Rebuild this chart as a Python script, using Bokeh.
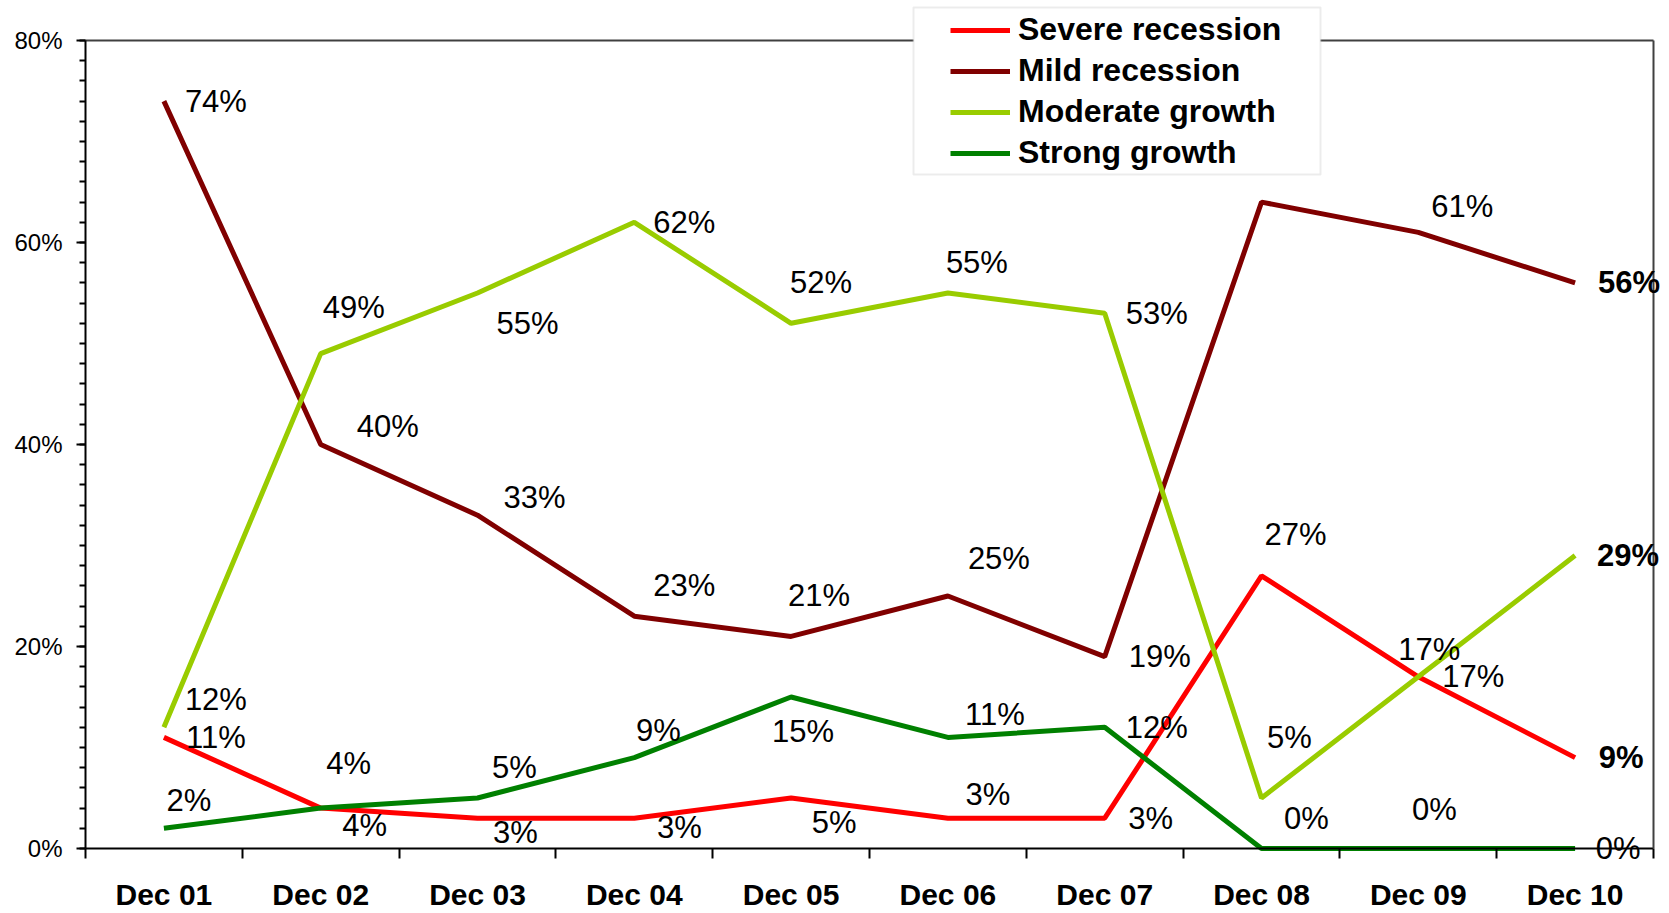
from bokeh.plotting import figure
from bokeh.models import (ColumnDataSource, LabelSet, Legend, LegendItem, FixedTicker,
                          PrintfTickFormatter, Range1d, BoxAnnotation, LinearAxis)
from bokeh.core.properties import value
from bokeh.embed import file_html
from bokeh.resources import INLINE

# ---------------- data ----------------
categories = ["Dec 01", "Dec 02", "Dec 03", "Dec 04", "Dec 05",
              "Dec 06", "Dec 07", "Dec 08", "Dec 09", "Dec 10"]
severe_recession = [11, 4, 3, 3, 5, 3, 3, 27, 17, 9]
mild_recession = [74, 40, 33, 23, 21, 25, 19, 64, 61, 56]
moderate_growth = [12, 49, 55, 62, 52, 55, 53, 5, 17, 29]
strong_growth = [2, 4, 5, 9, 15, 11, 12, 0, 0, 0]
y_ticks = [0, 20, 40, 60, 80]
y_minor_ticks = list(range(0, 81, 2))

series_names = ["Severe recession", "Mild recession", "Moderate growth", "Strong growth"]
series_values = [severe_recession, mild_recession, moderate_growth, strong_growth]
series_colors = ["#FF0000", "#800000", "#99CC00", "#008000"]
last_bold = [True, True, True, False]

# label offsets in screen pixels (dx right, dy down); None = no label
label_offsets = [
    [(52, 0), (44, 17), (38, 14), (45, 9), (43, 24), (40, -24), (46, 0), (34, -41), (55, 0), (46, 0)],
    [(52, 0), (67, -18), (57, -18), (50, -31), (28, -41), (51, -38), (55, 0), None, (44, -26), (54, 0)],
    [(52, -28), (33, -46), (50, 30), (50, 0), (30, -41), (29, -31), (52, 0), (28, -61), (11, -27), (53, 0)],
    [(25, -28), (28, -45), (37, -31), (24, -27), (12, 34), (47, -23), (52, 0), (45, -30), (16, -39), (43, 0)],
]

FONT = "Liberation Sans"
n = len(categories)
xs = [i + 0.5 for i in range(n)]
centers = xs
boundaries = list(range(0, n + 1))

# canvas geometry: plot area from x=85..1653, y=40..848
W, H = 1661, 910
L, R, T, B = 85, 1653, 40, 848
px_x = (R - L) / n
px_y = (B - T) / 80.0
x_range = Range1d(-L / px_x, n + (W - R) / px_x)
y_range = Range1d(-(H - B) / px_y, 80 + T / px_y)

p = figure(width=W, height=H, x_range=x_range, y_range=y_range,
           output_backend="svg", toolbar_location=None, min_border=0,
           x_axis_location=None, y_axis_location=None)
p.background_fill_color = "white"
p.border_fill_color = "white"
p.outline_line_color = None
p.grid.visible = False

# y axis at x=0
yax = LinearAxis(fixed_location=0, bounds=(0, 80),
                 ticker=FixedTicker(ticks=y_ticks, minor_ticks=y_minor_ticks),
                 formatter=PrintfTickFormatter(format="%d%%"))
yax.axis_line_color = "black"
yax.axis_line_width = 2
yax.major_tick_line_width = 2
yax.minor_tick_line_width = 2
yax.major_tick_out = 9
yax.major_tick_in = 0
yax.minor_tick_out = 6
yax.minor_tick_in = 0
yax.major_label_standoff = 14
yax.major_label_text_font = FONT
yax.major_label_text_font_size = "24px"
yax.major_label_text_color = "black"
p.add_layout(yax, "left")

# x axis at y=0: labels at category centres, tick marks at category boundaries
xax = LinearAxis(fixed_location=0, bounds=(0, n),
                 ticker=FixedTicker(ticks=centers, minor_ticks=boundaries))
xax.major_label_overrides = {c: lab for c, lab in zip(centers, categories)}
xax.axis_line_color = "black"
xax.axis_line_width = 2
xax.major_tick_line_color = None
xax.major_tick_out = 0
xax.major_tick_in = 0
xax.minor_tick_line_color = "black"
xax.minor_tick_line_width = 2
xax.minor_tick_out = 10
xax.minor_tick_in = 0
xax.major_label_standoff = 19
xax.major_label_text_font = FONT
xax.major_label_text_font_size = "30px"
xax.major_label_text_font_style = "bold"
xax.major_label_text_color = "black"
p.add_layout(xax, "below")

# plot-area border on top and right
top_ax = LinearAxis(fixed_location=80, bounds=(0, n), ticker=FixedTicker(ticks=[]),
                    axis_line_color="#404040", axis_line_width=2,
                    major_tick_line_color=None, minor_tick_line_color=None)
p.add_layout(top_ax, "above")
right_ax = LinearAxis(fixed_location=n, bounds=(0, 80), ticker=FixedTicker(ticks=[]),
                      axis_line_color="#404040", axis_line_width=2,
                      major_tick_line_color=None, minor_tick_line_color=None)
p.add_layout(right_ax, "right")

# lines
renderers = []
for name, vals, col in zip(series_names, series_values, series_colors):
    src = ColumnDataSource(dict(x=xs, y=vals))
    r = p.line("x", "y", source=src, line_color=col, line_width=5)
    renderers.append(r)

# data labels
norm = dict(x=[], y=[], text=[], xo=[], yo=[])
bold = dict(x=[], y=[], text=[], xo=[], yo=[])
for s, vals in enumerate(series_values):
    for i, v in enumerate(vals):
        off = label_offsets[s][i]
        if off is None:
            continue
        d = bold if (i == n - 1 and last_bold[s]) else norm
        d["x"].append(xs[i]); d["y"].append(v); d["text"].append(f"{v}%")
        d["xo"].append(off[0]); d["yo"].append(-off[1])

for d, style in ((norm, "normal"), (bold, "bold")):
    ls = LabelSet(x="x", y="y", text="text", x_offset="xo", y_offset="yo",
                  source=ColumnDataSource(d), text_font=value(FONT), text_font_size=value("31px"),
                  text_font_style=value(style), text_color="black",
                  text_align="center", text_baseline="middle")
    p.add_layout(ls)

# legend frame + legend
box = BoxAnnotation(left=(913 - L) / px_x, right=(1320 - L) / px_x,
                    bottom=80 + (T - 174) / px_y, top=80 + (T - 7) / px_y,
                    fill_color="white", fill_alpha=1.0,
                    line_color="#BFBFBF", line_width=2)
p.add_layout(box)

legend = Legend(items=[LegendItem(label=nm, renderers=[r]) for nm, r in zip(series_names, renderers)],
                location=(950, H - 171), orientation="vertical",
                label_text_font=FONT, label_text_font_style="bold", label_text_font_size="32px",
                label_text_color="black",
                glyph_width=60, glyph_height=36, label_height=36, spacing=4,
                padding=0, margin=0, label_standoff=8,
                border_line_color=None, background_fill_alpha=0.0)
p.add_layout(legend)

open("out.html", "w").write(file_html(p, INLINE))
